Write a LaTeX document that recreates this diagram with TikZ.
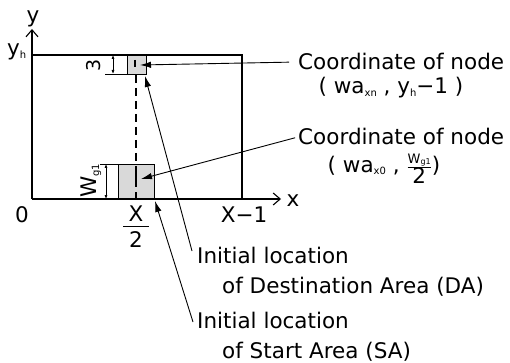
\documentclass[tikz,border=0pt]{standalone}
\usepackage{fontspec}
\setmainfont{DejaVu Sans}
\usetikzlibrary{arrows.meta}
\newcommand\lowidx[1]{\raisebox{-0.12em}{\fontsize{10}{10}\selectfont #1}}
\begin{document}
\begin{tikzpicture}[x=1pt,y=-1pt,
  lbl/.style={font=\fontsize{21.5}{24}\selectfont, inner sep=0pt},
  frame/.style={line width=1.1pt},
  ptr/.style={line width=0.9pt, -{Latex[length=11pt,width=6.5pt]}},
  axis/.style={line width=1.1pt, -{Straight Barb[length=7pt,width=12pt,line width=1.1pt]}},
  dim/.style={line width=0.7pt, {Latex[length=4pt,width=3pt]}-{Latex[length=4pt,width=3pt]}},
  area/.style={fill=gray!30, draw=black, line width=0.8pt},
  nodemark/.style={line width=2.6pt},
  dashln/.style={line width=2.2pt, dash pattern=on 8pt off 5pt}
]
\useasboundingbox (0,0) rectangle (510,363);
% areas
\draw[area] (118,164) rectangle (154,199);
\draw[area] (127,55) rectangle (146,74);
% dashed centre line
\draw[dashln] (136,75) -- (136,199);
% markers
\draw[nodemark] (135,60) -- (135,67);
\draw[nodemark] (136,173) -- (136,184);
% frame and axes
\draw[axis] (32,199) -- (32,29);
\draw[axis] (32,199) -- (281,199);
\draw[frame] (32,55) -- (242,55) -- (242,199);
% dimensions
\draw[dim] (113,55) -- (113,74);
\draw[line width=0.7pt] (105,74) -- (127,74);
\draw[dim] (106,164) -- (106,199);
\draw[line width=0.7pt] (100,164) -- (118,164);
\node[lbl, rotate=90, font=\fontsize{19}{20}\selectfont] (three) at (94,65) {3};
\node[lbl, rotate=90] (wg) at (91,181) {W\lowidx{g1}};
% axis labels
\node[lbl, anchor=base] (ylab) at (33,23) {y};
\node[lbl, anchor=base west] (yh) at (7,56) {y\lowidx{h}};
\node[lbl, anchor=base] (zero) at (22,222) {0};
\node[lbl, anchor=base] (xm1) at (244,222) {X−1};
\node[lbl, anchor=base] (xlab) at (293,206) {x};
\node[lbl, anchor=base] (xnum) at (136,221) {X};
\draw[line width=1pt] (123,226) -- (149,226);
\node[lbl, anchor=base] (xden) at (136,247) {2};
% tip coordinates
\coordinate (tipDA) at (140,65);
\coordinate (tipSA) at (141,179);
\coordinate (cornerDA) at (145,76);
\coordinate (cornerSA) at (155,201);
\coordinate (dtail) at (192,251);
\coordinate (stail) at (193,322);
% right labels
\node[lbl, anchor=base west] (c1) at (298,70) {Coordinate of node};
\node[lbl, anchor=base] (c1b) at (391,94) {( wa\lowidx{xn} , y\lowidx{h}−1 )};
\node[lbl, anchor=base west] (c2) at (298,145) {Coordinate of node};
\node[lbl, anchor=base] (c2b) at (384,172) {( wa\lowidx{x0} , $\frac{\hbox{\fontsize{13}{13}\selectfont W\raisebox{-0.1em}{\fontsize{8}{8}\selectfont g1}}}{\hbox{2}}$)};
% bottom labels
\node[lbl, anchor=base west] (i1) at (197,263) {Initial location};
\node[lbl, anchor=base west] (i1b) at (222,293) {of Destination Area (DA)};
\node[lbl, anchor=base west] (i2) at (197,328) {Initial location};
\node[lbl, anchor=base west] (i2b) at (222,358) {of Start Area (SA)};
% leaders
\draw[ptr, shorten <=9pt] (c1.west) -- (tipDA);
\draw[ptr, shorten <=3pt] (c2.west) -- (tipSA);
\draw[ptr] (dtail) -- (cornerDA);
\draw[ptr] (stail) -- (cornerSA);
\end{tikzpicture}
\end{document}
